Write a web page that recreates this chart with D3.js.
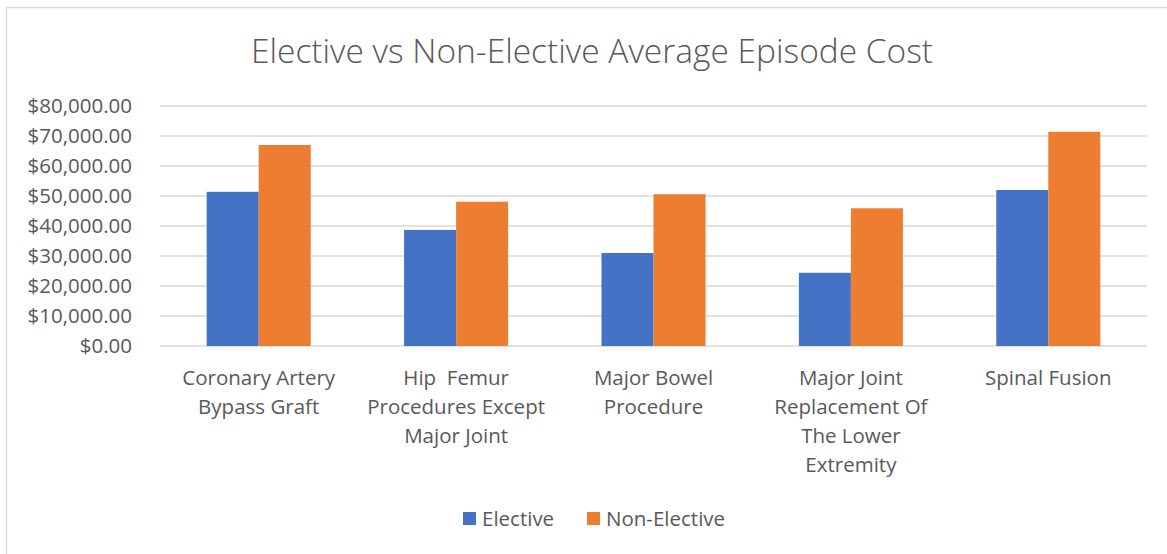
<!DOCTYPE html>
<html>
<head>
<meta charset="utf-8">
<script src="https://cdn.jsdelivr.net/npm/d3@7"></script>
<style>
  body { margin: 0; background: #fff; }
  text { font-family: "Open Sans", sans-serif; fill: #595959; white-space: pre; }
</style>
</head>
<body>
<svg id="chart" width="1167" height="554"></svg>
<script>
// data
const categories = [
    ["Coronary Artery", "Bypass Graft"],
    ["Hip  Femur", "Procedures Except", "Major Joint"],
    ["Major Bowel", "Procedure"],
    ["Major Joint", "Replacement Of", "The Lower", "Extremity"],
    ["Spinal Fusion"]
];
const seriesNames = ["Elective", "Non-Elective"];
const elective = [51400, 38700, 31000, 24400, 52000];
const nonElective = [67000, 48100, 50600, 45900, 71400];
const yTicks = [0, 10000, 20000, 30000, 40000, 50000, 60000, 70000, 80000];
const colors = ["#4472C4", "#ED7D31"];

const svg = d3.select("#chart");
const W = 1167, H = 554;
const plot = { left: 160, right: 1147, top: 106, bottom: 346 };

// chart frame (only top and left edges are visible in the crop)
svg.append("line").attr("x1", 6.5).attr("x2", W).attr("y1", 7.5).attr("y2", 7.5)
    .attr("stroke", "#d9d9d9").attr("stroke-width", 1.5);
svg.append("line").attr("x1", 6.5).attr("x2", 6.5).attr("y1", 7.5).attr("y2", H)
    .attr("stroke", "#d9d9d9").attr("stroke-width", 1.5);

svg.append("text")
    .attr("x", 592).attr("y", 63)
    .attr("text-anchor", "middle")
    .style("font-size", "33.5px")
    .style("font-weight", 300)
    .text("Elective vs Non-Elective Average Episode Cost");

const x0 = d3.scaleBand()
    .domain(d3.range(categories.length))
    .range([plot.left, plot.right])
    .paddingInner(0.473)
    .paddingOuter(0.2365);

const x1 = d3.scaleBand()
    .domain([0, 1])
    .range([0, x0.bandwidth()]);

const y = d3.scaleLinear()
    .domain([0, 80000])
    .range([plot.bottom, plot.top]);

// gridlines
svg.append("g")
    .selectAll("line")
    .data(yTicks)
    .enter().append("line")
    .attr("x1", plot.left).attr("x2", plot.right)
    .attr("y1", d => y(d)).attr("y2", d => y(d))
    .attr("stroke", "#d9d9d9")
    .attr("stroke-width", 1.3);

// y axis labels
const fmt = d3.format("$,.2f");
svg.append("g")
    .selectAll("text")
    .data(yTicks)
    .enter().append("text")
    .attr("x", 132)
    .attr("y", d => y(d))
    .attr("dy", "0.35em")
    .attr("text-anchor", "end")
    .style("font-size", "20.5px")
    .text(d => fmt(d));

// bars
const groups = svg.append("g")
    .selectAll("g")
    .data(categories.map((c, i) => [elective[i], nonElective[i]]))
    .enter().append("g")
    .attr("transform", (d, i) => `translate(${x0(i)},0)`);

groups.selectAll("rect")
    .data(d => d)
    .enter().append("rect")
    .attr("x", (d, j) => x1(j))
    .attr("width", x1.bandwidth())
    .attr("y", d => y(d))
    .attr("height", d => y(0) - y(d))
    .attr("fill", (d, j) => colors[j]);

// category labels
const labels = svg.append("g")
    .selectAll("text")
    .data(categories)
    .enter().append("text")
    .attr("x", (d, i) => x0(i) + x0.bandwidth() / 2)
    .attr("y", 385)
    .attr("text-anchor", "middle")
    .style("font-size", "20.5px");

labels.selectAll("tspan")
    .data(d => d)
    .enter().append("tspan")
    .attr("x", function () { return d3.select(this.parentNode).attr("x"); })
    .attr("dy", (d, k) => k === 0 ? 0 : 29)
    .text(d => d);

// legend
const legend = svg.append("g");
const legendX = [463, 587];
seriesNames.forEach((name, j) => {
    legend.append("rect")
        .attr("x", legendX[j]).attr("y", 512)
        .attr("width", 13).attr("height", 13)
        .attr("fill", colors[j]);
    legend.append("text")
        .attr("x", legendX[j] + 19).attr("y", 526)
        .style("font-size", "20.5px")
        .text(name);
});
</script>
</body>
</html>
